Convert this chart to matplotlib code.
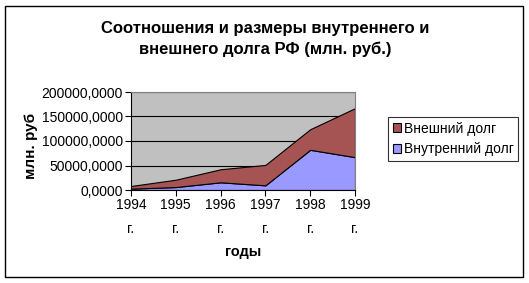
import numpy as np
import matplotlib.pyplot as plt
from matplotlib.patches import Rectangle

plt.rcParams['font.family'] = ['Liberation Sans', 'DejaVu Sans']

# data (млн. руб.)
years = ["1994\nг.", "1995\nг.", "1996\nг.", "1997\nг.", "1998\nг.", "1999\nг."]
vnutr = [2700, 6000, 15700, 9500, 82000, 67000]
vnesh = [5500, 15000, 26600, 41700, 42000, 100000]
yticks = [0, 50000, 100000, 150000, 200000]
ytick_labels = ["0,0000", "50000,0000", "100000,0000", "150000,0000", "200000,0000"]

fig = plt.figure(figsize=(5.29, 2.83), dpi=100)
W, H = 529, 283

# outer border
fig.patches.append(Rectangle((5 / W, 6 / H), 518 / W, 271 / H, transform=fig.transFigure,
                             fill=False, edgecolor="black", linewidth=1))

ax = fig.add_axes([131 / W, 1 - 190 / H, 224 / W, 98 / H])
ax.set_facecolor("#C0C0C0")

x = np.arange(len(years))
ax.stackplot(x, vnutr, vnesh, colors=["#9999FF", "#A65353"],
             edgecolor="black", linewidth=0.8,
             labels=["Внутренний долг", "Внешний долг"])

ax.set_xlim(0, len(years) - 1)
ax.set_ylim(0, 200000)
ax.set_yticks(yticks)
ax.set_yticklabels(ytick_labels, fontsize=10)
ax.set_xticks(x)
ax.set_xticklabels(years, fontsize=10, linespacing=1.9)
ax.yaxis.grid(True, color="black", linewidth=0.8)
ax.set_axisbelow(True)
for s in ax.spines.values():
    s.set_color("#808080")
ax.spines["left"].set_color("black")
ax.spines["bottom"].set_color("black")
ax.tick_params(axis="both", direction="out", length=4, width=0.8, pad=2)

# y label, clipped at the top like the original
yl = fig.text(31 / W, 1 - 146 / H, "млн. руб", rotation=90, ha="center", va="center",
              fontsize=11, fontweight="bold")
clip = Rectangle((15 / W, 1 - 190 / H), 30 / W, 83 / H, transform=fig.transFigure)
yl.set_clip_path(clip)

fig.text(243 / W, 1 - 252 / H, "годы", ha="center", va="center",
         fontsize=10.5, fontweight="bold")

fig.text(265 / W, 1 - 28 / H, "Соотношения и размеры внутреннего и",
         ha="center", va="center", fontsize=12, fontweight="bold")
fig.text(265 / W, 1 - 49 / H, "внешнего долга РФ (млн. руб.)",
         ha="center", va="center", fontsize=12, fontweight="bold")

h, l = ax.get_legend_handles_labels()
leg = fig.legend(h[::-1], l[::-1], loc="center", bbox_to_anchor=(453 / W, 1 - 139 / H),
                 fontsize=10, frameon=True, fancybox=False, edgecolor="black",
                 handlelength=0.6, handleheight=0.6, handletextpad=0.2,
                 borderpad=0.35, labelspacing=0.5, borderaxespad=0)
leg.get_frame().set_linewidth(0.8)

fig.savefig("out.png", dpi=100)
